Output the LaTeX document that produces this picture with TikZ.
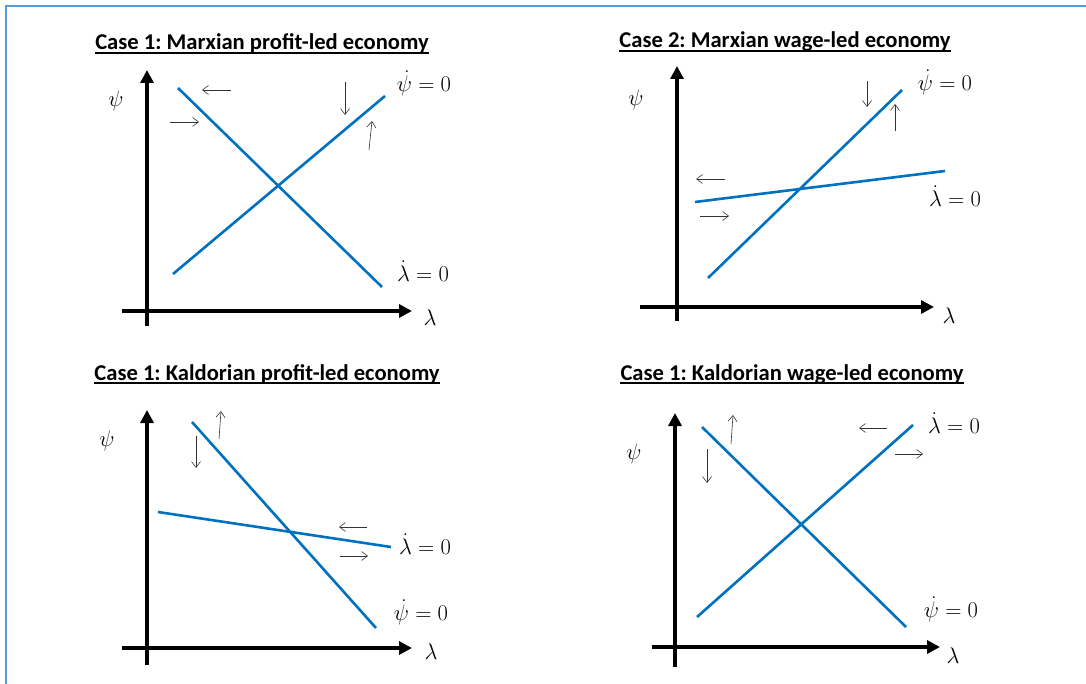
\RequirePackage{fix-cm}
\documentclass[tikz,border=0pt]{standalone}
\usepackage{fontspec}
\newfontfamily\titlefont{Carlito}
\usetikzlibrary{arrows.meta}
\definecolor{curveblue}{RGB}{0,112,192}
\definecolor{framebl}{RGB}{91,155,213}
\frenchspacing
\begin{document}
\begin{tikzpicture}[x=1pt,y=-1pt,
  axis/.style={line width=3.6pt,-{Triangle[length=13pt,width=13pt]}},
  curve/.style={line width=2.6pt,curveblue},
  flow/.style={line width=0.6pt,black!80,-{Straight Barb[length=6pt,width=9pt]}},
  ttl/.style={font=\titlefont\bfseries\frenchspacing\fontsize{22.6}{26}\selectfont,anchor=base,inner sep=0pt},
  uline/.style={line width=1.6pt},
  lbl/.style={font=\fontsize{22.5}{26}\selectfont,inner sep=0pt}]
\useasboundingbox (0,0) rectangle (1086,684);
% frame
\coordinate (fa) at (6,684);
\coordinate (fb) at (6,6);
\coordinate (fc) at (1086,6);
\draw[framebl,line width=2pt] (fa) -- (fb) -- (fc);

% ---------- Panel 1 ----------
\node[ttl] (t1) at (262,50) {Case 1: Marxian profit-led economy};
\draw[uline] ([yshift=-2.8pt]t1.base west) -- ([yshift=-2.8pt]t1.base east);
\coordinate (y1a) at (147,326); \coordinate (y1b) at (147,70);
\coordinate (x1a) at (122,311); \coordinate (x1b) at (412,311);
\draw[axis] (y1a) -- (y1b);
\draw[axis] (x1a) -- (x1b);
\node[lbl] (psi1) at (116,101) {$\psi$};
\node[lbl] (lam1) at (430,318) {$\lambda$};
\coordinate (l1a) at (178,88); \coordinate (l1b) at (382,287);
\coordinate (p1a) at (173,274); \coordinate (p1b) at (385,96);
\draw[curve] (l1a) -- (l1b);
\draw[curve] (p1a) -- (p1b);
\node[lbl] (pd1) at (424,83) {$\dot\psi = 0$};
\node[lbl] (ld1) at (423,271) {$\dot\lambda = 0$};
\coordinate (a1s) at (231,90); \coordinate (a1e) at (202,90);
\coordinate (b1s) at (170,122); \coordinate (b1e) at (199,122);
\coordinate (c1s) at (345,82); \coordinate (c1e) at (345,115);
\coordinate (d1s) at (369,150); \coordinate (d1e) at (372,121);
\draw[flow] (a1s) -- (a1e);
\draw[flow] (b1s) -- (b1e);
\draw[flow] (c1s) -- (c1e);
\draw[flow] (d1s) -- (d1e);

% ---------- Panel 2 ----------
\node[ttl] (t2) at (785,48) {Case 2: Marxian wage-led economy};
\draw[uline] ([yshift=-2.8pt]t2.base west) -- ([yshift=-2.8pt]t2.base east);
\coordinate (y2a) at (677,321); \coordinate (y2b) at (677,66);
\coordinate (x2a) at (640,307); \coordinate (x2b) at (934,307);
\draw[axis] (y2a) -- (y2b);
\draw[axis] (x2a) -- (x2b);
\node[lbl] (psi2) at (636,100) {$\psi$};
\node[lbl] (lam2) at (949,316) {$\lambda$};
\coordinate (p2a) at (708,278); \coordinate (p2b) at (902,90);
\coordinate (l2a) at (695,202); \coordinate (l2b) at (945,171);
\draw[curve] (p2a) -- (p2b);
\draw[curve] (l2a) -- (l2b);
\node[lbl] (pd2) at (945,82) {$\dot\psi = 0$};
\node[lbl] (ld2) at (955,196) {$\dot\lambda = 0$};
\coordinate (a2s) at (867,81); \coordinate (a2e) at (867,107);
\coordinate (b2s) at (895,131); \coordinate (b2e) at (895,104);
\coordinate (c2s) at (725,179); \coordinate (c2e) at (696,179);
\coordinate (d2s) at (700,216); \coordinate (d2e) at (729,216);
\draw[flow] (a2s) -- (a2e);
\draw[flow] (b2s) -- (b2e);
\draw[flow] (c2s) -- (c2e);
\draw[flow] (d2s) -- (d2e);

% ---------- Panel 3 ----------
\node[ttl] (t3) at (267,380) {Case 1: Kaldorian profit-led economy};
\draw[uline] ([yshift=-2.8pt]t3.base west) -- ([yshift=-2.8pt]t3.base east);
\coordinate (y3a) at (147,665); \coordinate (y3b) at (147,410);
\coordinate (x3a) at (122,648); \coordinate (x3b) at (412,648);
\draw[axis] (y3a) -- (y3b);
\draw[axis] (x3a) -- (x3b);
\node[lbl] (psi3) at (107,441) {$\psi$};
\node[lbl] (lam3) at (431,652) {$\lambda$};
\coordinate (p3a) at (192,422); \coordinate (p3b) at (376,628);
\coordinate (l3a) at (158,512); \coordinate (l3b) at (391,547);
\draw[curve] (p3a) -- (p3b);
\draw[curve] (l3a) -- (l3b);
\node[lbl] (ld3) at (425,544) {$\dot\lambda = 0$};
\node[lbl] (pd3) at (421,612) {$\dot\psi = 0$};
\coordinate (a3s) at (219,439); \coordinate (a3e) at (221,411);
\coordinate (b3s) at (196,436); \coordinate (b3e) at (196,468);
\coordinate (c3s) at (367,527); \coordinate (c3e) at (339,527);
\coordinate (d3s) at (340,556); \coordinate (d3e) at (368,556);
\draw[flow] (a3s) -- (a3e);
\draw[flow] (b3s) -- (b3e);
\draw[flow] (c3s) -- (c3e);
\draw[flow] (d3s) -- (d3e);

% ---------- Panel 4 ----------
\node[ttl] (t4) at (792,380) {Case 1: Kaldorian wage-led economy};
\draw[uline] ([yshift=-2.8pt]t4.base west) -- ([yshift=-2.8pt]t4.base east);
\coordinate (y4a) at (675,667); \coordinate (y4b) at (675,413);
\coordinate (x4a) at (652,647); \coordinate (x4b) at (940,647);
\draw[axis] (y4a) -- (y4b);
\draw[axis] (x4a) -- (x4b);
\node[lbl] (psi4) at (634,454) {$\psi$};
\node[lbl] (lam4) at (953,656) {$\lambda$};
\coordinate (l4a) at (702,427); \coordinate (l4b) at (906,627);
\coordinate (p4a) at (697,617); \coordinate (p4b) at (913,425);
\draw[curve] (l4a) -- (l4b);
\draw[curve] (p4a) -- (p4b);
\node[lbl] (ld4) at (954,423) {$\dot\lambda = 0$};
\node[lbl] (pd4) at (951,609) {$\dot\psi = 0$};
\coordinate (a4s) at (731,444); \coordinate (a4e) at (733,415);
\coordinate (b4s) at (707,449); \coordinate (b4e) at (707,483);
\coordinate (c4s) at (887,428); \coordinate (c4e) at (859,428);
\coordinate (d4s) at (895,454); \coordinate (d4e) at (923,454);
\draw[flow] (a4s) -- (a4e);
\draw[flow] (b4s) -- (b4e);
\draw[flow] (c4s) -- (c4e);
\draw[flow] (d4s) -- (d4e);
\end{tikzpicture}
\end{document}
